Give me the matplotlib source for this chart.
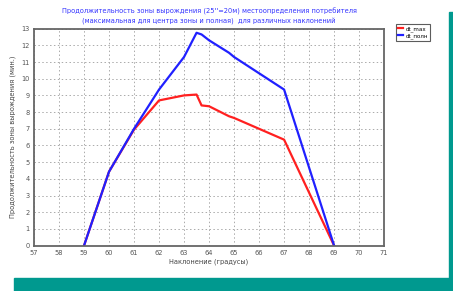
import matplotlib
matplotlib.use("Agg")
import matplotlib.pyplot as plt
from matplotlib.patches import Rectangle

# -----------------------------
# Data
# -----------------------------
incl = [59, 60, 61, 62, 63, 63.5, 63.7, 64, 64.8, 65, 67, 69]
dt_max = [0, 4.43, 6.95, 8.7, 9.0, 9.05, 8.4, 8.35, 7.75, 7.65, 6.35, 0]
dt_full = [0, 4.43, 7.0, 9.35, 11.3, 12.75, 12.65, 12.3, 11.55, 11.3, 9.35, 0]

x_ticks = list(range(57, 72))
y_ticks = list(range(0, 14))

teal = "#00998f"

# -----------------------------
# Plot
# -----------------------------
fig = plt.figure(figsize=(4.53, 2.91), dpi=100)
ax = fig.add_axes([0.075, 0.1557, 0.773, 0.746])

ax.plot(incl, dt_max, color="#ff2020", lw=1.6, label="dt_max")
ax.plot(incl, dt_full, color="#2020ff", lw=1.6, label="dt_полн")

ax.set_xlim(57, 71)
ax.set_ylim(0, 13)
ax.set_xticks(x_ticks)
ax.set_yticks(y_ticks)
ax.tick_params(labelsize=4.8, colors="#555555", length=0, pad=3)
ax.grid(True, ls=(0, (1.5, 2.5)), color="#aaaaaa", lw=0.7)
for s in ax.spines.values():
    s.set_color("#666666")
    s.set_linewidth(1.3)

ax.set_xlabel("Наклонение (градусы)", fontsize=4.8, color="#444444", labelpad=2)
ax.set_ylabel("Продолжительность зоны вырождения (мин.)", fontsize=4.8,
              color="#444444", labelpad=4)
ax.set_title("Продолжительность зоны вырождения (25''=20м) местоопределения потребителя\n"
             "(максимальная для центра зоны и полная)  для различных наклонений",
             fontsize=4.8, color="#3333ff", pad=4, linespacing=1.5)

leg = ax.legend(loc="upper left", bbox_to_anchor=(1.035, 1.02), fontsize=4.0,
                frameon=True, fancybox=False, handlelength=0.9, handletextpad=0.4,
                borderpad=0.35, labelspacing=0.25, borderaxespad=0)
leg.get_frame().set_edgecolor("#333333")
leg.get_frame().set_linewidth(0.8)

# teal bars at the right and bottom edges
fig.patches.append(Rectangle((449 / 453, 0), 4 / 453, 1 - 12 / 291,
                             transform=fig.transFigure, color=teal, zorder=0))
fig.patches.append(Rectangle((14 / 453, 0), 1, 13 / 291,
                             transform=fig.transFigure, color=teal, zorder=0))

fig.savefig("out.png", dpi=100)
